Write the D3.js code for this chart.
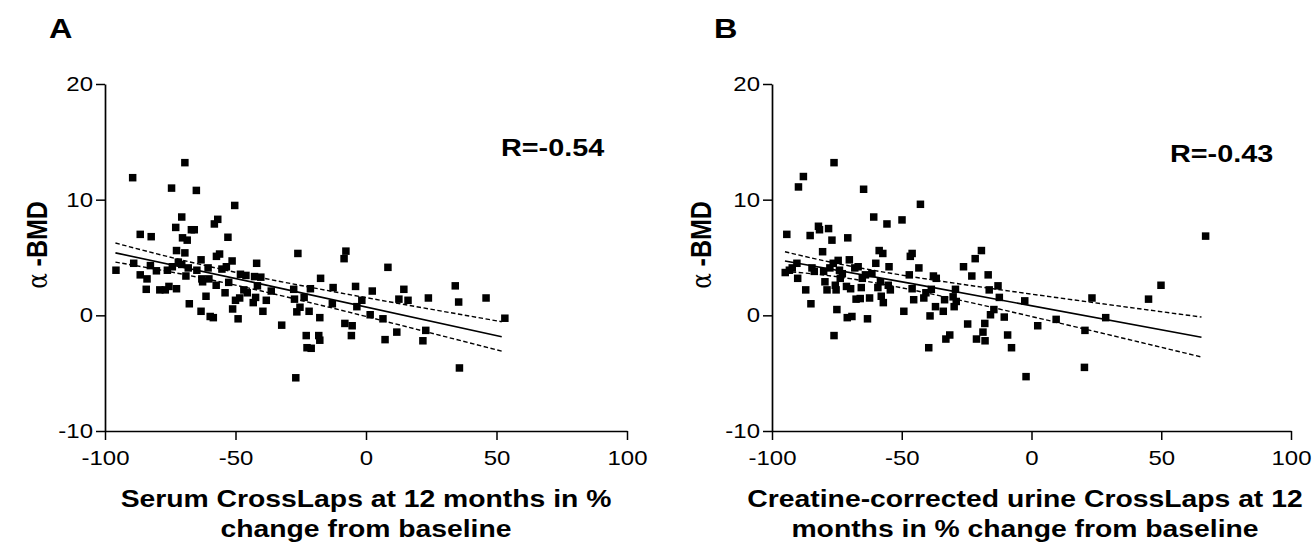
<!DOCTYPE html>
<html>
<head>
<meta charset="utf-8">
<script src="https://cdn.jsdelivr.net/npm/d3@7"></script>
<style>
  body { margin: 0; background: #fff; }
  svg { display: block; font-family: "Liberation Sans", Arial, sans-serif; }
</style>
</head>
<body>
<svg id="chart" width="1312" height="545"></svg>
<script>
// values (x = % change, y = alpha-BMD)
const serumPoints = [[-95.8,3.9],[-89.4,11.9],[-89.0,4.5],[-86.5,7.0],[-86.5,3.5],[-82.3,6.8],[-84.2,2.25],[-83.9,3.15],[-82.6,4.3],[-80.3,3.85],[-79.0,2.2],[-76.9,2.2],[-76.1,3.9],[-75.5,2.5],[-74.5,11.0],[-74.2,4.2],[-72.9,7.6],[-72.6,5.6],[-72.6,2.3],[-71.9,4.6],[-70.6,8.5],[-70.3,6.7],[-70.6,4.4],[-69.4,13.2],[-69.4,5.4],[-69.0,3.4],[-68.5,6.5],[-68.1,4.1],[-67.7,1.0],[-66.9,7.4],[-65.8,7.4],[-65.0,10.8],[-64.8,3.9],[-63.2,4.8],[-63.2,0.35],[-62.9,3.15],[-62.6,2.9],[-61.3,1.65],[-60.5,4.1],[-60.2,3.15],[-59.7,-0.1],[-58.5,-0.2],[-58.1,7.9],[-57.4,2.6],[-57.3,5.1],[-56.8,8.3],[-56.1,5.3],[-55.2,4.0],[-54.0,1.95],[-53.5,4.2],[-52.9,6.75],[-52.6,2.85],[-51.3,4.7],[-51.1,0.55],[-50.3,9.5],[-50.0,1.3],[-49.0,-0.3],[-48.4,1.5],[-48.1,3.55],[-46.8,2.2],[-46.0,3.45],[-45.5,1.95],[-43.2,1.1],[-42.7,3.35],[-42.3,1.55],[-41.9,4.5],[-41.6,2.55],[-40.3,3.3],[-39.5,0.35],[-38.2,1.3],[-36.3,2.1],[-32.3,-0.85],[-27.7,2.25],[-27.4,1.4],[-26.9,-5.4],[-26.5,0.3],[-26.1,5.35],[-25.3,0.7],[-23.7,1.55],[-22.9,-1.75],[-22.6,-2.8],[-21.8,0.35],[-21.3,2.3],[-21.0,-2.85],[-18.1,-1.75],[-17.7,-0.2],[-17.7,-2.15],[-17.4,3.2],[-12.9,1.0],[-12.6,2.4],[-8.4,4.9],[-7.7,5.55],[-8.1,-0.7],[-5.6,-1.75],[-5.3,-0.9],[-4.0,2.5],[-3.5,0.75],[-1.6,1.3],[1.6,0.05],[2.4,2.1],[6.5,-0.3],[7.3,-2.1],[8.4,4.15],[11.8,-1.45],[12.6,1.4],[14.5,2.25],[16.1,1.3],[21.8,-2.2],[22.9,-1.3],[23.9,1.5],[34.2,2.55],[35.5,1.15],[35.8,-4.55],[46.0,1.5],[53.2,-0.25]];

const urinePoints = [[-94.9,3.7],[-94.3,7.0],[-93.3,3.9],[-92.2,4.1],[-90.4,4.5],[-89.8,11.1],[-87.9,12.0],[-90.1,3.2],[-87.0,2.2],[-85.3,6.9],[-85.0,1.0],[-84.6,4.1],[-83.7,3.8],[-82.1,7.7],[-81.7,7.4],[-80.5,5.5],[-80.1,3.8],[-79.6,2.9],[-78.8,2.2],[-78.2,7.5],[-77.7,4.1],[-76.9,6.5],[-76.4,4.5],[-76.1,13.2],[-76.1,-1.75],[-75.6,2.6],[-75.3,2.2],[-75.0,0.5],[-74.5,4.75],[-74.0,3.9],[-73.7,3.2],[-72.9,3.6],[-71.3,2.5],[-70.8,6.7],[-71.0,-0.2],[-70.2,4.8],[-69.7,2.3],[-69.2,-0.1],[-68.1,4.1],[-67.6,1.4],[-66.8,4.2],[-66.0,1.45],[-65.6,2.4],[-65.2,3.2],[-64.7,10.9],[-64.0,3.5],[-63.2,-0.3],[-62.4,1.5],[-61.5,3.6],[-60.8,8.5],[-60.0,4.5],[-59.2,2.4],[-58.7,5.6],[-58.2,2.9],[-57.9,1.65],[-57.3,5.35],[-57.1,1.1],[-55.7,7.9],[-55.2,2.6],[-54.9,4.2],[-54.4,2.2],[-49.9,8.25],[-49.2,0.35],[-47.1,3.5],[-46.7,5.1],[-46.0,5.35],[-46.0,2.3],[-45.4,1.35],[-43.4,4.1],[-42.8,9.6],[-41.5,1.5],[-40.7,1.95],[-39.6,-2.8],[-39.1,-0.05],[-38.6,2.25],[-37.8,3.4],[-37.0,0.75],[-36.7,3.2],[-34.0,0.35],[-33.5,1.35],[-33.0,-2.05],[-31.5,-1.7],[-30.2,1.6],[-29.8,0.75],[-29.3,2.25],[-29.0,1.2],[-26.2,4.2],[-24.6,-0.75],[-23.0,3.4],[-21.7,4.9],[-21.2,-2.05],[-19.3,5.6],[-18.7,-1.45],[-18.0,-0.7],[-17.9,-2.2],[-16.7,3.5],[-16.3,2.2],[-15.8,0.05],[-14.5,0.5],[-12.9,2.55],[-12.4,1.55],[-10.5,-0.15],[-9.2,-1.7],[-7.7,-2.8],[-2.6,1.25],[-2.1,-5.3],[2.4,-0.9],[9.5,-0.35],[20.4,-4.5],[20.6,-1.3],[23.3,1.5],[28.6,-0.2],[45.1,1.4],[49.9,2.6],[67.1,6.85]];

// regression line and 95% band, read at three x positions
const serumFitX = [-96, -40, 52];
const serumFit = [5.4, 2.7, -1.85];
const serumUpper = [6.25, 3.25, -0.55];
const serumLower = [4.6, 2.1, -3.1];

const urineFitX = [-95, -45, 65.5];
const urineFit = [4.7, 2.7, -1.9];
const urineUpper = [5.5, 3.3, -0.15];
const urineLower = [3.8, 2.15, -3.6];

const xTicks = [-100, -50, 0, 50, 100];
const yTicks = [-10, 0, 10, 20];

// the scan is a bit wider than the font, so texts get stretched sideways
const SX = 1.2;

const panels = [
  { letter: "A", r: "R=-0.54", pts: serumPoints, fx: serumFitX, fit: serumFit, up: serumUpper, lo: serumLower,
    title: ["Serum CrossLaps at 12 months in %", "change from baseline"], titleX: 366,
    x0: 105, x1: 627, letterX: 49, yLabX: 47, rX: 501, rY: 156 },
  { letter: "B", r: "R=-0.43", pts: urinePoints, fx: urineFitX, fit: urineFit, up: urineUpper, lo: urineLower,
    title: ["Creatine-corrected urine CrossLaps at 12", "months in % change from baseline"], titleX: 1025,
    x0: 772, x1: 1291, letterX: 714, yLabX: 711, rX: 1170, rY: 162 }
];

const svg = d3.select("#chart");
svg.append("rect").attr("width", 1312).attr("height", 545).attr("fill", "#fff");

function addText(parent, x, y, txt, sx) {
  return parent.append("text").attr("transform", `translate(${x},${y}) scale(${sx || SX},1)`).text(txt);
}

panels.forEach(p => {
  const xScale = d3.scaleLinear().domain([-100, 100]).range([p.x0, p.x1]);
  const yScale = d3.scaleLinear().domain([-10, 20]).range([431, 84]);
  const g = svg.append("g");

  // axes
  const xAxis = g.append("g").attr("transform", "translate(0,431)")
    .call(d3.axisBottom(xScale).tickValues(xTicks).tickFormat(d => String(d))
      .tickSize(9).tickSizeOuter(0).tickPadding(11));
  const yAxis = g.append("g").attr("transform", `translate(${p.x0},0)`)
    .call(d3.axisLeft(yScale).tickValues(yTicks).tickFormat(d => String(d))
      .tickSize(9).tickSizeOuter(0).tickPadding(3));
  [xAxis, yAxis].forEach(a => {
    a.attr("font-size", 20).attr("font-family", "Liberation Sans, Arial, sans-serif");
    a.select(".domain").attr("stroke", "#000").attr("stroke-width", 1.7);
    a.selectAll(".tick line").attr("stroke", "#000").attr("stroke-width", 1.5);
    a.selectAll(".tick text").each(function() {
      const t = d3.select(this);
      const tx = +t.attr("x") || 0, ty = +t.attr("y") || 0;
      t.attr("x", 0).attr("y", 0).attr("fill", "#000")
        .attr("transform", `translate(${tx},${ty}) scale(${SX},1)`);
    });
  });

  // fit line and confidence band
  const line = d3.line().curve(d3.curveNatural).x((d, i) => xScale(p.fx[i])).y(d => yScale(d));
  g.append("path").attr("d", line(p.fit)).attr("fill", "none").attr("stroke", "#000").attr("stroke-width", 1.6);
  [p.up, p.lo].forEach(arr => {
    g.append("path").attr("d", line(arr)).attr("fill", "none").attr("stroke", "#000")
      .attr("stroke-width", 1.4).attr("stroke-dasharray", "4.5,2.5");
  });

  // points
  const s = 7.5;
  g.selectAll("rect.pt").data(p.pts).join("rect").attr("class", "pt")
    .attr("x", d => xScale(d[0]) - s / 2).attr("y", d => yScale(d[1]) - s / 2)
    .attr("width", s).attr("height", s).attr("fill", "#000");

  // labels
  addText(svg, p.letterX, 38, p.letter).attr("font-size", 27).attr("font-weight", "bold");
  addText(svg, p.rX, p.rY, p.r).attr("font-size", 24).attr("font-weight", "bold");

  p.title.forEach((t, i) => {
    addText(svg, p.titleX, 507 + i * 30, t, 1.18).attr("text-anchor", "middle")
      .attr("font-size", 24).attr("font-weight", "bold");
  });

  const yl = svg.append("text").attr("transform", `translate(${p.yLabX},245) rotate(-90) scale(1,${SX})`)
    .attr("text-anchor", "middle").attr("font-size", 25);
  yl.append("tspan").attr("font-family", "DejaVu Serif, serif").attr("font-size", 23).text("α");
  yl.append("tspan").attr("font-weight", "bold").text(" -BMD");
});
</script>
</body>
</html>
